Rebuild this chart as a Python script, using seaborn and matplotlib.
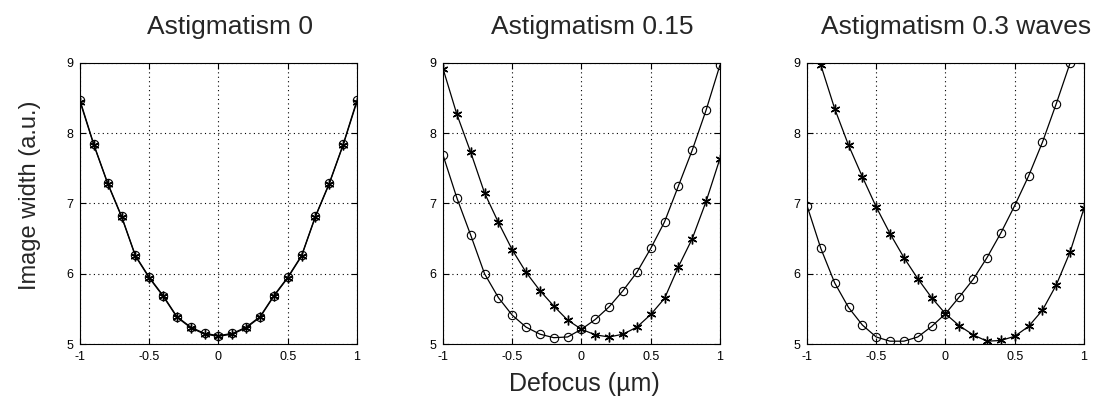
import numpy as np
import pandas as pd
import matplotlib
matplotlib.use("Agg")
import matplotlib.pyplot as plt
import seaborn as sns

defocus = [-1.0, -0.9, -0.8, -0.7, -0.6, -0.5, -0.4, -0.3, -0.2, -0.1, 0.0,
           0.1, 0.2, 0.3, 0.4, 0.5, 0.6, 0.7, 0.8, 0.9, 1.0]

# Astigmatism 0
a0_circ = [8.47, 7.84, 7.29, 6.82, 6.26, 5.95, 5.69, 5.39, 5.24, 5.15, 5.12,
           5.15, 5.24, 5.39, 5.69, 5.95, 6.26, 6.82, 7.29, 7.84, 8.47]
a0_star = [8.45, 7.83, 7.28, 6.81, 6.25, 5.94, 5.68, 5.38, 5.23, 5.14, 5.11,
           5.14, 5.23, 5.38, 5.68, 5.94, 6.25, 6.81, 7.28, 7.83, 8.45]

# Astigmatism 0.15
a15_circ = [7.69, 7.08, 6.55, 6.00, 5.66, 5.41, 5.24, 5.14, 5.09, 5.10, 5.21,
            5.35, 5.53, 5.76, 6.02, 6.36, 6.74, 7.25, 7.76, 8.33, 8.97]
a15_star = [8.92, 8.27, 7.73, 7.15, 6.73, 6.34, 6.02, 5.76, 5.54, 5.34, 5.21,
            5.13, 5.10, 5.14, 5.24, 5.42, 5.65, 6.10, 6.50, 7.03, 7.64]

# Astigmatism 0.3 waves
a30_circ = [6.97, 6.36, 5.87, 5.52, 5.27, 5.10, 5.04, 5.04, 5.10, 5.25, 5.43,
            5.67, 5.92, 6.23, 6.58, 6.97, 7.39, 7.87, 8.42, 9.00, 9.60]
a30_star = [9.60, 8.97, 8.35, 7.83, 7.38, 6.95, 6.57, 6.23, 5.93, 5.66, 5.43,
            5.26, 5.13, 5.04, 5.05, 5.11, 5.25, 5.48, 5.84, 6.31, 6.93]

titles = ["Astigmatism 0", "Astigmatism 0.15", "Astigmatism 0.3 waves"]
x_ticks = [-1, -0.5, 0, 0.5, 1]
x_ticklabels = ["-1", "-0.5", "0", "0.5", "1"]
y_ticks = [5, 6, 7, 8, 9]
y_ticklabels = ["5", "6", "7", "8", "9"]
xlabel = "Defocus (\u00b5m)"
ylabel = "Image width (a.u.)"

sns.set_style("white")
plt.rcParams['font.family'] = ['Liberation Sans', 'DejaVu Sans']

fig = plt.figure(figsize=(10.96, 4.03), dpi=100)
lefts = [0.073, 0.4042, 0.7363]
w, h, b = 0.2527, 0.6973, 0.1464

series = [(a0_circ, a0_star), (a15_circ, a15_star), (a30_circ, a30_star)]
asterisk = (6, 2, 0)

for i, (left, (circ, star), title) in enumerate(zip(lefts, series, titles)):
    ax = fig.add_axes([left, b, w, h])
    df = pd.DataFrame({"x": defocus, "circ": circ, "star": star})
    sns.lineplot(data=df, x="x", y="star", ax=ax, color="black", lw=0.9,
                 marker=asterisk, markersize=7, markeredgewidth=1.0,
                 markeredgecolor="black")
    sns.lineplot(data=df, x="x", y="circ", ax=ax, color="black", lw=0.9,
                 marker="o", markersize=6, markerfacecolor="none",
                 markeredgecolor="black", markeredgewidth=0.8)
    ax.set_xlim(-1, 1)
    ax.set_ylim(5, 9)
    ax.set_xticks(x_ticks)
    ax.set_xticklabels(x_ticklabels)
    ax.set_yticks(y_ticks)
    ax.set_yticklabels(y_ticklabels)
    ax.grid(True, color="black", linestyle=(0, (1, 3)), linewidth=0.8)
    ax.tick_params(direction="in", length=4, width=0.8, labelsize=9,
                   colors="black", top=True, right=True, bottom=True, left=True,
                   pad=5)
    for s in ax.spines.values():
        s.set_color("black")
        s.set_linewidth(0.8)
    ax.set_title(title, fontsize=19, pad=21, x=0.54)
    if i == 1:
        ax.set_xlabel(xlabel, fontsize=18)
        ax.xaxis.set_label_coords(0.51, -0.1)
    else:
        ax.set_xlabel("")
    if i == 0:
        ax.set_ylabel(ylabel, fontsize=17)
        ax.yaxis.set_label_coords(-0.14, 0.53)
    else:
        ax.set_ylabel("")

fig.savefig("out.png", dpi=100)
